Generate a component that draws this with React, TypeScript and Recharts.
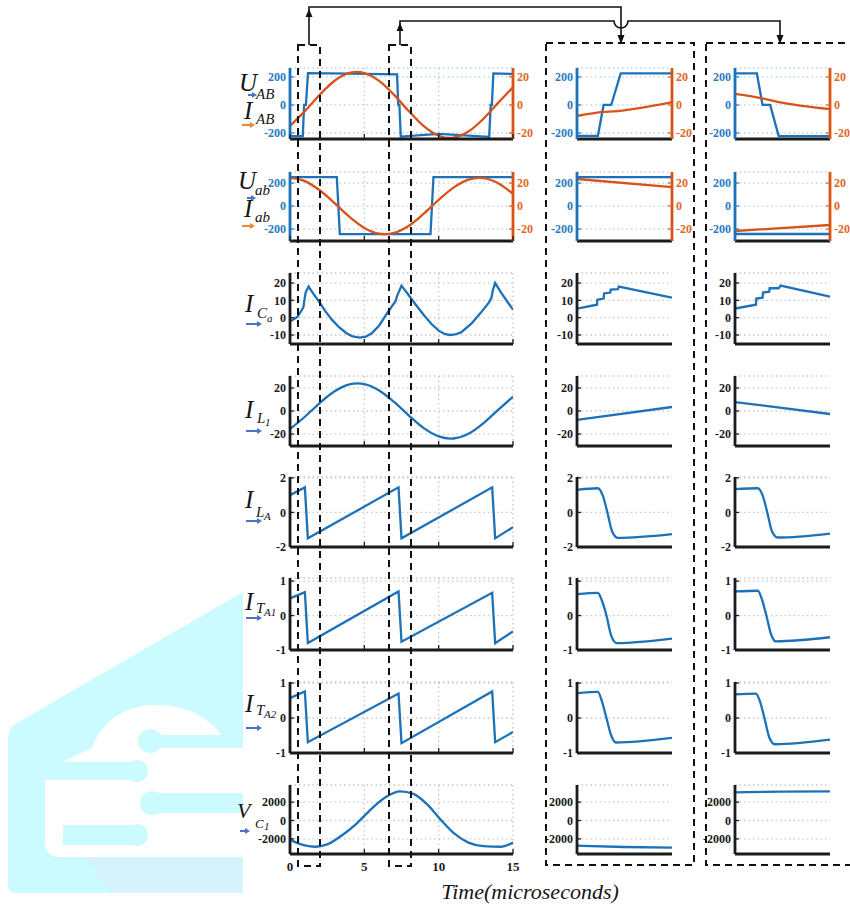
import React from "react";
import { LineChart, Line, XAxis, YAxis, CartesianGrid } from "recharts";

type Pt = [number, number];

// ---------- time axes ----------
const MAIN_TIME: [number, number] = [0, 15];
const ZOOM_TIME: [number, number] = [0, 10];
const MAIN_TIME_TICKS = [0, 5, 10, 15];

// ---------- y ticks ----------
const TICKS_U = [-200, 0, 200];
const TICKS_I20 = [-20, 0, 20];
const TICKS_ICA = [-10, 0, 10, 20];
const TICKS_ILA = [-2, 0, 2];
const TICKS_IT = [-1, 0, 1];
const TICKS_VC = [-2000, 0, 2000];

// ---------- main column (0..15 us) ----------
const U_AB: Pt[] = [[0, -222], [0.86, -222], [0.95, 0], [1.07, 0], [1.21, 228], [4, 224], [7.2, 218], [7.28, 0], [7.36, 0], [7.45, -226], [10, -207], [13.4, -228], [13.5, 0], [13.58, 0], [13.68, 226], [15, 221]];
const I_AB: Pt[] = [[0, -15], [1, -4.4], [2, 7.3], [3, 17.3], [4, 22.9], [4.55, 23.6], [5, 22.8], [6, 17.2], [7, 7.2], [8, -4.5], [9, -15.1], [10, -22], [10.8, -23.6], [11, -23.4], [12, -19], [13, -10], [14, 1.5], [15, 12.6]];
const U_ab: Pt[] = [[0, 252], [3.15, 252], [3.35, -245], [9.45, -245], [9.65, 252], [15, 252]];
const I_ab: Pt[] = [[0, 24.5], [1, 21.7], [2, 13.7], [3, 2.5], [4, -9.4], [5, -19], [6, -24.1], [6.4, -24.5], [7, -23.4], [8, -17.1], [9, -6.6], [10, 5.4], [11, 16], [12, 22.9], [12.7, 24.5], [13, 24.3], [14, 19.9], [15, 10.6]];
const I_CA: Pt[] = [[0, -2.3], [0.5, 0.5], [0.9, 6], [0.95, 9], [1.05, 14.5], [1.25, 18], [1.6, 13.5], [2, 8.7], [2.4, 3.5], [2.8, -1], [3.3, -5.5], [3.8, -9], [4.2, -10.8], [4.7, -11.5], [5.1, -11], [5.5, -9], [6, -4.5], [6.6, 3.5], [7.1, 9.5], [7.2, 12.5], [7.5, 18.5], [7.9, 14], [8.5, 7], [9, 1.5], [9.5, -3.5], [10, -7.5], [10.4, -9.4], [10.75, -10], [11.1, -9.7], [11.5, -8.5], [12.2, -3.5], [12.8, 2.5], [13.4, 9], [13.55, 11.5], [13.65, 16], [13.8, 20], [14.2, 14.5], [14.6, 9.5], [15, 4.6]];
const I_L1: Pt[] = [[0, -15.7], [1, -5], [2, 6.9], [3, 17.1], [4, 23.1], [4.55, 24], [5, 23.4], [6, 17.9], [7, 7.9], [8, -4], [9, -14.9], [10, -22.1], [10.8, -24], [11, -23.9], [12, -19.8], [13, -10.7], [14, 1], [15, 12.4]];
const I_LA: Pt[] = [[0, 1.0], [1.0, 1.45], [1.2, -1.5], [7.3, 1.45], [7.5, -1.5], [13.6, 1.45], [13.8, -1.5], [15, -0.85]];
const I_TA1: Pt[] = [[0, 0.5], [1.0, 0.68], [1.2, -0.8], [7.3, 0.7], [7.5, -0.76], [13.6, 0.66], [13.8, -0.8], [15, -0.46]];
const I_TA2: Pt[] = [[0, 0.57], [1.0, 0.76], [1.2, -0.69], [7.3, 0.7], [7.5, -0.72], [13.6, 0.76], [13.8, -0.69], [15, -0.4]];
const V_C1: Pt[] = [[0, -2080], [0.5, -2450], [1, -2700], [1.7, -2850], [2.5, -2600], [3.5, -1600], [4.5, -300], [5.5, 1300], [6.5, 2600], [7.4, 3170], [8.3, 2900], [9.2, 1800], [10.1, 150], [11, -1350], [12, -2400], [13, -2780], [14.2, -2850], [15, -2400]];

// ---------- zoom window 1 ----------
const Z1_U_AB: Pt[] = [[0, -220], [2.2, -220], [2.8, 0], [3.6, 0], [4.6, 225], [10, 225]];
const Z1_I_AB: Pt[] = [[0, -7.9], [2.8, -5], [3.8, -4.6], [10, 2.1]];
const Z1_U_ab: Pt[] = [[0, 252], [10, 252]];
const Z1_I_ab: Pt[] = [[0, 23.5], [10, 16.5]];
const Z1_I_CA: Pt[] = [[0, 5.2], [2.1, 7.5], [2.15, 10.4], [2.8, 11], [2.85, 14], [3.5, 14.5], [3.55, 16.2], [4.3, 16.5], [4.4, 18], [10, 11.6]];
const Z1_I_L1: Pt[] = [[0, -7.8], [10, 3.5]];
const Z1_I_LA: Pt[] = [[0, 1.31], [2.2, 1.4], [2.7, 1], [3.2, 0], [3.7, -1.1], [4.3, -1.47], [10, -1.25]];
const Z1_I_TA1: Pt[] = [[0, 0.62], [2.2, 0.66], [2.6, 0.45], [3.1, 0], [3.6, -0.58], [4.2, -0.8], [10, -0.67]];
const Z1_I_TA2: Pt[] = [[0, 0.71], [2.2, 0.75], [2.6, 0.5], [3.1, 0], [3.6, -0.5], [4.1, -0.7], [10, -0.57]];
const Z1_V_C1: Pt[] = [[0, -2730], [5, -2880], [10, -2950]];

// ---------- zoom window 2 ----------
const Z2_U_AB: Pt[] = [[0, 225], [2.3, 225], [2.9, 0], [3.7, 0], [4.6, -222], [10, -222]];
const Z2_I_AB: Pt[] = [[0, 7.9], [3, 4.5], [4.6, 2.1], [10, -2.9]];
const Z2_U_ab: Pt[] = [[0, -243], [10, -243]];
const Z2_I_ab: Pt[] = [[0, -21.7], [10, -16.5]];
const Z2_I_CA: Pt[] = [[0, 5.3], [2.2, 7.5], [2.25, 11], [2.9, 11.5], [2.95, 14.5], [3.6, 15], [3.65, 17], [4.6, 17], [4.8, 18.5], [10, 12.1]];
const Z2_I_L1: Pt[] = [[0, 7.8], [10, -2.6]];
const Z2_I_LA: Pt[] = [[0, 1.35], [2.4, 1.4], [2.9, 1], [3.4, 0], [3.9, -1.1], [4.5, -1.45], [10, -1.22]];
const Z2_I_TA1: Pt[] = [[0, 0.7], [2.4, 0.72], [2.8, 0.5], [3.3, 0], [3.8, -0.55], [4.3, -0.75], [10, -0.63]];
const Z2_I_TA2: Pt[] = [[0, 0.68], [2.2, 0.7], [2.6, 0.5], [3.1, 0], [3.6, -0.55], [4.2, -0.75], [10, -0.62]];
const Z2_V_C1: Pt[] = [[0, 3060], [5, 3140], [10, 3170]];

// ---------- styling ----------
const BLUE = "#1c71b8";
const ORANGE = "#d95319";
const BLUE_TXT = "#2b79c2";
const ORANGE_TXT = "#e0672a";
const INK = "#1b1b1b";
const GRID = "#c9c9c9";
const GRID_BLUE = "#b3d0ea";
const FONT = "'Liberation Serif', 'Times New Roman', serif";

const PAD_L = 70;
const PAD_R = 45;
const PAD_T = 6;
const AXIS_H = 24;

type Series = { pts: Pt[]; color: string; axis: "l" | "r"; curve: "linear" | "monotone" };
type Row = {
  top: number;
  bottom: number;
  yDomain: [number, number];
  yTicks: number[];
  rDomain?: [number, number];
  rTicks?: number[];
  series: Series[][]; // one list per column
};

const b = (pts: Pt[], curve: "linear" | "monotone" = "monotone"): Series => ({ pts, color: BLUE, axis: "l", curve });
const o = (pts: Pt[]): Series => ({ pts, color: ORANGE, axis: "r", curve: "monotone" });

const COLS = [
  { x0: 290, x1: 513, domain: MAIN_TIME, main: true },
  { x0: 577, x1: 672, domain: ZOOM_TIME, main: false },
  { x0: 735, x1: 830, domain: ZOOM_TIME, main: false },
];

const ROWS: Row[] = [
  { top: 68, bottom: 139, yDomain: [-243, 264], yTicks: TICKS_U, rDomain: [-24.3, 26.4], rTicks: TICKS_I20,
    series: [[b(U_AB, "linear"), o(I_AB)], [b(Z1_U_AB, "linear"), o(Z1_I_AB)], [b(Z2_U_AB, "linear"), o(Z2_I_AB)]] },
  { top: 172, bottom: 241, yDomain: [-304, 296], yTicks: TICKS_U, rDomain: [-30.4, 29.6], rTicks: TICKS_I20,
    series: [[b(U_ab, "linear"), o(I_ab)], [b(Z1_U_ab, "linear"), o(Z1_I_ab)], [b(Z2_U_ab, "linear"), o(Z2_I_ab)]] },
  { top: 273, bottom: 344, yDomain: [-15.2, 25.8], yTicks: TICKS_ICA,
    series: [[b(I_CA, "linear")], [b(Z1_I_CA, "linear")], [b(Z2_I_CA, "linear")]] },
  { top: 376, bottom: 446, yDomain: [-30.4, 30.4], yTicks: TICKS_I20,
    series: [[b(I_L1)], [b(Z1_I_L1, "linear")], [b(Z2_I_L1, "linear")]] },
  { top: 477, bottom: 547, yDomain: [-2, 2.05], yTicks: TICKS_ILA,
    series: [[b(I_LA, "linear")], [b(Z1_I_LA)], [b(Z2_I_LA)]] },
  { top: 578, bottom: 650, yDomain: [-1, 1.09], yTicks: TICKS_IT,
    series: [[b(I_TA1, "linear")], [b(Z1_I_TA1)], [b(Z2_I_TA1)]] },
  { top: 682, bottom: 753, yDomain: [-1, 1.03], yTicks: TICKS_IT,
    series: [[b(I_TA2, "linear")], [b(Z1_I_TA2)], [b(Z2_I_TA2)]] },
  { top: 785, bottom: 854, yDomain: [-3640, 3860], yTicks: TICKS_VC,
    series: [[b(V_C1)], [b(Z1_V_C1)], [b(Z2_V_C1)]] },
];

const toData = (pts: Pt[]) => pts.map(([t, v]) => ({ t, v }));

function YTick(props: any) {
  const { x, y, payload, color, side } = props;
  const dir = side === "l" ? 1 : -1;
  return (
    <g>
      <line x1={x} x2={x + dir * 4} y1={y} y2={y} stroke={color} strokeWidth={1.3} />
      <text
        x={x - dir * 4}
        y={y}
        dy={4.2}
        textAnchor={side === "l" ? "end" : "start"}
        fill={color}
        fontFamily={FONT}
        fontWeight="bold"
        fontSize={12}
      >
        {payload.value}
      </text>
    </g>
  );
}

function XTick(props: any) {
  const { x, y, payload, showLabel } = props;
  return (
    <g>
      <line x1={x} x2={x} y1={y} y2={y - 5} stroke={INK} strokeWidth={1.3} />
      {showLabel && (
        <text x={x} y={y + 17} textAnchor="middle" fill={INK} fontFamily={FONT} fontWeight="bold" fontSize={13}>
          {payload.value}
        </text>
      )}
    </g>
  );
}

function Panel({ col, row, series, showX }: { col: (typeof COLS)[number]; row: Row; series: Series[]; showX: boolean }) {
  const twin = !!row.rDomain;
  const w = col.x1 - col.x0 + PAD_L + PAD_R;
  const h = row.bottom - row.top + PAD_T + AXIS_H;
  const leftTxt = twin ? BLUE_TXT : INK;
  return (
    <div style={{ position: "absolute", left: col.x0 - PAD_L, top: row.top - PAD_T }}>
      <LineChart width={w} height={h} margin={{ top: PAD_T, right: twin ? 0 : PAD_R, bottom: 0, left: 0 }}>
        <CartesianGrid
          yAxisId="l"
          stroke={twin ? GRID_BLUE : GRID}
          strokeDasharray="1.5 3"
          strokeWidth={1.3}
          vertical={col.main}
        />
        <XAxis
          type="number"
          dataKey="t"
          domain={col.domain}
          ticks={col.main ? MAIN_TIME_TICKS : undefined}
          tick={col.main ? (p: any) => <XTick {...p} showLabel={showX} /> : false}
          tickLine={false}
          tickSize={0}
          tickMargin={0}
          interval={0}
          height={AXIS_H}
          axisLine={{ stroke: INK, strokeWidth: 2.8 }}
          allowDataOverflow
        />
        <YAxis
          yAxisId="l"
          type="number"
          width={PAD_L}
          domain={row.yDomain}
          ticks={row.yTicks}
          interval={0}
          tickLine={false}
          tickSize={0}
          tickMargin={0}
          tick={(p: any) => <YTick {...p} color={leftTxt} side="l" />}
          axisLine={{ stroke: twin ? BLUE : INK, strokeWidth: 2.8 }}
          allowDataOverflow
        />
        {twin && (
          <YAxis
            yAxisId="r"
            orientation="right"
            type="number"
            width={PAD_R}
            domain={row.rDomain}
            ticks={row.rTicks}
            interval={0}
            tickLine={false}
            tickSize={0}
            tickMargin={0}
            tick={(p: any) => <YTick {...p} color={ORANGE_TXT} side="r" />}
            axisLine={{ stroke: ORANGE, strokeWidth: 2.8 }}
            allowDataOverflow
          />
        )}
        {series.map((s, i) => (
          <Line
            key={i}
            yAxisId={s.axis}
            data={toData(s.pts)}
            dataKey="v"
            type={s.curve}
            stroke={s.color}
            strokeWidth={2.3}
            dot={false}
            isAnimationActive={false}
          />
        ))}
      </LineChart>
    </div>
  );
}

function Arrow({ x1, x2, y, color }: { x1: number; x2: number; y: number; color: string }) {
  return (
    <g>
      <line x1={x1} x2={x2 - 4} y1={y} y2={y} stroke={color} strokeWidth={2} />
      <polygon points={`${x2},${y} ${x2 - 5},${y - 3} ${x2 - 5},${y + 3}`} fill={color} />
    </g>
  );
}

function Sym({ base, sub, sub2, bx, by, sx, sy, s2x, s2y, size = 25, subSize = 15, arrow }: any) {
  return (
    <g fontFamily={FONT} fontStyle="italic" fill="#151515">
      <text x={bx} y={by} fontSize={size}>{base}</text>
      <text x={sx} y={sy} fontSize={subSize}>{sub}</text>
      {sub2 && <text x={s2x} y={s2y} fontSize={11}>{sub2}</text>}
      <Arrow {...arrow} />
    </g>
  );
}

const ARROW_BLUE = "#4a73c6";
const ARROW_ORANGE = "#f0862e";

function Overlay() {
  const dash = { fill: "none", stroke: "#111", strokeWidth: 2, strokeDasharray: "7 5" };
  const cyan = "#ccfbff";
  return (
    <svg width={850} height={910} style={{ position: "absolute", left: 0, top: 0, pointerEvents: "none" }}>
      {/* watermark */}
      <path d="M8,738 Q8,728 17,723 L243,592 L243,893 L16,893 Q8,893 8,885 Z" fill={cyan} />
      <path d="M85,858 L243,858 L243,893 L112,893 Z" fill="#d4f3fa" />
      <path d="M62,762 L92,748 C98,728 118,707 152,705 C186,704 210,718 222,736 L243,736 L243,857 L60,857 Q45,857 45,842 L45,776 Q45,762 62,762 Z" fill="#ffffff" />
      <rect x={150} y={735} width={93} height={13} fill={cyan} />
      <circle cx={150} cy={741} r={12} fill={cyan} />
      <rect x={40} y={762} width={97} height={18} fill={cyan} />
      <circle cx={137} cy={771} r={11} fill={cyan} />
      <rect x={152} y={793} width={91} height={20} fill={cyan} />
      <circle cx={152} cy={803} r={12} fill={cyan} />
      <rect x={63} y={825} width={74} height={20} fill={cyan} />
      <circle cx={137} cy={835} r={11} fill={cyan} />

      {/* labels */}
      <Sym base="U" sub="AB" bx={239} by={91} sx={256} sy={99} arrow={{ x1: 248, x2: 257, y: 95, color: ARROW_BLUE }} />
      <Sym base="I" sub="AB" bx={244} by={119} sx={256} sy={124} arrow={{ x1: 242, x2: 255, y: 125, color: ARROW_ORANGE }} />
      <Sym base="U" sub="ab" bx={238} by={189} sx={255} sy={195} arrow={{ x1: 247, x2: 256, y: 198, color: ARROW_BLUE }} />
      <Sym base="I" sub="ab" bx={244} by={217} sx={255} sy={222} arrow={{ x1: 242, x2: 255, y: 226, color: ARROW_ORANGE }} />
      <Sym base="I" sub="C" sub2="a" bx={245} by={312} sx={257} sy={318} s2x={267} s2y={322} arrow={{ x1: 246, x2: 262, y: 324, color: ARROW_BLUE }} />
      <Sym base="I" sub="L" sub2="1" bx={245} by={418} sx={257} sy={423} s2x={265} s2y={426} arrow={{ x1: 246, x2: 262, y: 431, color: ARROW_BLUE }} />
      <Sym base="I" sub="L" sub2="A" bx={245} by={508} sx={256} sy={517} s2x={264} s2y={520} arrow={{ x1: 246, x2: 262, y: 521, color: ARROW_BLUE }} />
      <Sym base="I" sub="T" sub2="A1" bx={245} by={610} sx={256} sy={613} s2x={264} s2y={616} arrow={{ x1: 246, x2: 262, y: 618, color: ARROW_BLUE }} />
      <Sym base="I" sub="T" sub2="A2" bx={245} by={712} sx={256} sy={715} s2x={264} s2y={718} arrow={{ x1: 246, x2: 262, y: 728, color: ARROW_BLUE }} />
      <Sym base="V" sub="C" sub2="1" size={22} subSize={13} bx={237} by={818} sx={255} sy={828} s2x={264} s2y={830} arrow={{ x1: 240, x2: 250, y: 831, color: ARROW_BLUE }} />

      <text x={530} y={899} textAnchor="middle" fontFamily={FONT} fontStyle="italic" fontSize={22} fill="#151515">
        Time(microseconds)
      </text>

      {/* dashed zoom boxes */}
      <rect x={298} y={45} width={22} height={821} {...dash} />
      <rect x={389} y={45} width={22} height={821} {...dash} />
      <rect x={546} y={43} width={148} height={822} {...dash} />
      <rect x={706} y={43} width={160} height={822} {...dash} />

      {/* connector arrows */}
      <g stroke="#111" strokeWidth={1.6} fill="none">
        <path d="M309,45 V7 H621 V38" />
        <path d="M400,45 V21 H614 A7,7 0 0 0 628,21 H780 V38" />
      </g>
      <g fill="#111">
        <polygon points="309,9 305.5,17 312.5,17" />
        <polygon points="400,23 396.5,31 403.5,31" />
        <polygon points="621,44 617.5,35 624.5,35" />
        <polygon points="780,44 776.5,35 783.5,35" />
      </g>
    </svg>
  );
}

export default function App() {
  return (
    <div style={{ position: "absolute", left: 0, top: 0, width: 850, height: 910, overflow: "hidden", background: "#fff" }}>
      {ROWS.map((row, ri) =>
        COLS.map((col, ci) => (
          <Panel key={`${ri}-${ci}`} col={col} row={row} series={row.series[ci]} showX={ri === ROWS.length - 1} />
        ))
      )}
      <Overlay />
    </div>
  );
}
